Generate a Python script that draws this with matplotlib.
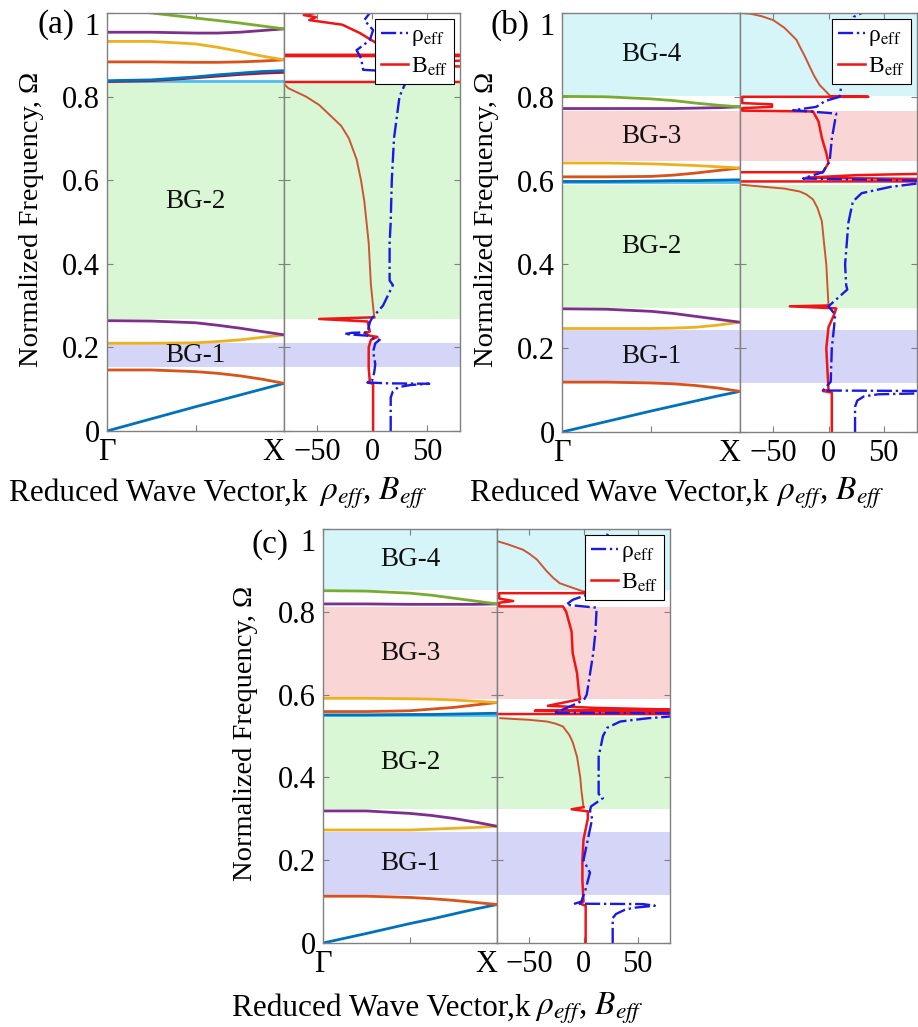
import numpy as np
import matplotlib
matplotlib.use('Agg')
import matplotlib.pyplot as plt

plt.rcParams['font.family'] = ['Liberation Serif', 'DejaVu Serif']
plt.rcParams['mathtext.fontset'] = 'stix'

nan = np.nan

# colores tipo MATLAB
AZUL = '#0072BD'
NARANJA = '#D95319'
AMARILLO = '#EDB120'
MORADO = '#7E2F8E'
VERDE = '#77AC30'
CIAN = '#4DBEEE'
VINO = '#A2142F'

# puntos del vector de onda (Gamma -> X)
k_pts = [0, 0.25, 0.5, 0.625, 0.75, 0.875, 1.0]

# ---------------- panel (a) ----------------
bandas_a = [
    [0.0, 0.029, 0.058, 0.072, 0.086, 0.100, 0.114],
    [0.146, 0.146, 0.142, 0.138, 0.132, 0.124, 0.114],
    [0.21, 0.21, 0.211, 0.214, 0.218, 0.224, 0.23],
    [0.264, 0.263, 0.259, 0.253, 0.246, 0.238, 0.23],
    [0.837, 0.837, 0.837, 0.837, 0.837, 0.837, 0.837],
    [0.836, 0.838, 0.845, 0.849, 0.853, 0.856, 0.858],
    [0.838, 0.84, 0.847, 0.852, 0.856, 0.86, 0.862],
    [0.883, 0.883, 0.882, 0.882, 0.883, 0.885, 0.888],
    [0.932, 0.932, 0.926, 0.918, 0.908, 0.897, 0.888],
    [0.954, 0.954, 0.952, 0.952, 0.954, 0.958, 0.962],
    [1.015, 1.0, 0.988, 0.982, 0.976, 0.969, 0.962],
]
colores_a = [AZUL, NARANJA, AMARILLO, MORADO, CIAN, VINO, AZUL, NARANJA, AMARILLO, MORADO, VERDE]
gaps_a = [(0.152, 0.21), (0.267, 0.832)]
nombres_a = ['BG-1', 'BG-2']

rho_a_val = [17, 17, 19, 24, 35, 52, 15, -4, 0, 2, 3, 1, 3, 7, 0, -4, -25, -18, -4, -2,
             0, 10, 19, 16, 16, 17, 18, 20, 25, 30, 35, 21, -8, -10, -14, -2, 1, -7, -2]
rho_a_frq = [0, .08, .095, .105, .11, .113, .114, .116, .12, .14, .16, .19, .21, .218, .222,
             .228, .232, .235, .236, .26, .27, .3, .349, .36, .45, .5, .6, .7, .8, .83,
             .85, .86, .864, .892, .911, .935, .959, .983, 1.0]
beff_a_val = [1, 1, -4, -2, -3, -3, -1, 5, -2, -7, -2, -4, -48, 2, nan, -80, 80, nan, 80, 8,
              80, nan, -80, 80, nan, -80, 80, nan, 60, 19, 4, -11, -27, -57, -51, -62, -52]
beff_a_frq = [0, .113, .116, .12, .15, .2, .218, .225, .228, .234, .238, .262, .268, .272, nan,
              .835, .835, nan, .872, .879, .886, nan, .9, .9, nan, .897, .897, nan, .903, .912,
              .928, .952, .972, .983, .99, .995, 1.0]
bgap_a_val = [2, -1, -2, -3, -5, -7, -10, -14, -21, -28, -36, -44, -48, -60, -68, -76, -80]
bgap_a_frq = [.272, .35, .4, .45, .5, .55, .6, .65, .7, .73, .75, .77, .78, .8, .81, .82, .83]

# ---------------- panel (b) ----------------
bandas_b = [
    [0.0, 0.025, 0.05, 0.062, 0.074, 0.086, 0.097],
    [0.119, 0.119, 0.117, 0.115, 0.111, 0.105, 0.097],
    [0.247, 0.247, 0.247, 0.248, 0.25, 0.255, 0.262],
    [0.294, 0.293, 0.288, 0.283, 0.276, 0.269, 0.262],
    [0.597, 0.597, 0.597, 0.597, 0.597, 0.597, 0.597],
    [0.598, 0.598, 0.599, 0.6, 0.6, 0.601, 0.602],
    [0.609, 0.609, 0.61, 0.613, 0.618, 0.624, 0.63],
    [0.642, 0.642, 0.64, 0.638, 0.636, 0.633, 0.63],
    [0.772, 0.772, 0.772, 0.772, 0.773, 0.774, 0.776],
    [0.801, 0.8, 0.795, 0.791, 0.785, 0.78, 0.776],
]
colores_b = [AZUL, NARANJA, AMARILLO, MORADO, CIAN, AZUL, NARANJA, AMARILLO, MORADO, VERDE]
gaps_b = [(0.117, 0.244), (0.296, 0.59), (0.646, 0.765), (0.801, 1.0)]
nombres_b = ['BG-1', 'BG-2', 'BG-3', 'BG-4']

rho_b_val = [24, 24, 26, 32, 45, 80, nan, 80, -5, -3, 2, 3, 5, 6, 0, 17, 16, 15, 18, 22,
             30, 56, 80, nan, 80, -23, -15, -5, -2, 1, 3, 7, -32, -11, -3, 10, 13, 19, 23, 30]
rho_b_frq = [0, .06, .075, .085, .09, .092, nan, .098, .099, .105, .12, .2, .25, .28, .3, .34,
             .35, .4, .5, .55, .57, .585, .593, nan, .6, .605, .612, .62, .635, .645, .7, .76,
             .768, .776, .79, .8, .85, .912, .991, 1.0]
beff_b_val = [3, 3, -5, 0, -1, -2, 0, 5, 7, -35, 0, nan, -80, 80, nan, 80, -20, 25, 80, nan,
              -78, -5, 0, -2, -6, -9, -14, -78, -78, -51, -51, -78, -78, 36, 2]
beff_b_frq = [0, .094, .098, .1, .15, .2, .25, .28, .295, .3, .302, nan, .598, .598, nan, .604,
              .607, .613, .616, nan, .62, .62, .642, .666, .702, .741, .765, .767, .773, .776,
              .782, .785, .8, .8, .801]
bgap_b_val = [0, -1, -2, -4, -6, -10, -14, -20, -26, -40, -62, -78, nan,
              2, -8, -13, -17, -22, -26, -29, -35, -40, -50, -60, -70, -78]
bgap_b_frq = [.302, .35, .4, .45, .503, .535, .555, .567, .574, .581, .586, .59, nan,
              .801, .828, .85, .872, .9, .92, .936, .952, .965, .983, .992, .998, 1.0]

# ---------------- panel (c) ----------------
bandas_c = [
    [0.0, 0.023, 0.047, 0.058, 0.07, 0.082, 0.093],
    [0.113, 0.113, 0.11, 0.107, 0.103, 0.098, 0.093],
    [0.273, 0.273, 0.273, 0.275, 0.277, 0.279, 0.282],
    [0.319, 0.319, 0.313, 0.308, 0.301, 0.292, 0.282],
    [0.551, 0.551, 0.551, 0.551, 0.551, 0.551, 0.551],
    [0.551, 0.551, 0.552, 0.552, 0.553, 0.554, 0.555],
    [0.559, 0.559, 0.561, 0.565, 0.569, 0.575, 0.581],
    [0.591, 0.591, 0.59, 0.589, 0.587, 0.584, 0.581],
    [0.819, 0.819, 0.818, 0.818, 0.818, 0.818, 0.819],
    [0.851, 0.85, 0.845, 0.84, 0.833, 0.826, 0.819],
]
colores_c = [AZUL, NARANJA, AMARILLO, MORADO, CIAN, AZUL, NARANJA, AMARILLO, MORADO, VERDE]
gaps_c = [(0.117, 0.269), (0.323, 0.547), (0.589, 0.811), (0.852, 1.0)]
nombres_c = ['BG-1', 'BG-2', 'BG-3', 'BG-4']

rho_c_val = [27, 27, 30, 38, 46, 66, 55, -8, -2, 2, 6, 0, 4, 8, 6, 7, 18, 14, 14, 18,
             22, 34, 60, 80, nan, 80, -28, -18, -5, 1, 3, 6, 9, 11, 12, 12, -16, -10, 2, 12,
             15, 17, 24]
rho_c_frq = [0, .06, .07, .08, .085, .09, .094, .095, .1, .13, .17, .2, .25, .3, .32, .33,
             .35, .36, .45, .5, .52, .535, .543, .547, nan, .555, .556, .565, .58, .59, .6,
             .65, .7, .75, .8, .81, .817, .829, .84, .853, .9, .95, 1.0]
beff_c_val = [2, 2, -3, 0, -1, -1, 0, 4, 4, -11, 0, nan, -80, 80, nan, 80, -45, 80, 10, -33,
              -3, -4, -6, -10, -11, -16, -19, -78, -78, -65, -78, -78, 14, 1]
beff_c_frq = [0, .09, .095, .1, .15, .2, .25, .3, .318, .323, .328, nan, .553, .553, nan, .558,
              .561, .564, .568, .573, .589, .6, .652, .7, .752, .8, .813, .813, .822, .826,
              .832, .845, .845, .848]
bgap_c_val = [0, -2, -3, -6, -10, -13, -19, -26, -34, -50, -77, nan,
              1, -10, -22, -28, -34, -43, -50, -56, -70, -79]
bgap_c_frq = [.328, .37, .4, .45, .485, .502, .523, .53, .535, .539, .543, nan,
              .848, .858, .869, .882, .898, .926, .94, .95, .963, .97]

color_gap = {'BG-1': '#D5D5F8', 'BG-2': '#D9F7D4', 'BG-3': '#F9D5D5', 'BG-4': '#D5F5F9'}

W, H = 918, 1027
fig = plt.figure(figsize=(W / 100, H / 100), dpi=100)


def ejes(x0, x1, ytop, ybot):
    return fig.add_axes([x0 / W, 1 - ybot / H, (x1 - x0) / W, (ybot - ytop) / H])


def estilo(ax):
    for s in ax.spines.values():
        s.set_color('#808080')
        s.set_linewidth(1.0)
    ax.tick_params(direction='in', length=4, width=0.8, color='#808080',
                   top=True, right=True, labelsize=22, pad=5)


def panel(pos, bandas, colores, gaps, nombres, rho_v, rho_f, bv, bf, gv, gf, letra, pos_txt):
    x0, xm, x1, ytop, ybot = pos
    axb = ejes(x0, xm, ytop, ybot)
    axe = ejes(xm, x1, ytop, ybot)

    for (lo, hi), nom in zip(gaps, nombres):
        axb.axhspan(lo, hi, color=color_gap[nom], lw=0, zorder=0)
        axe.axhspan(lo, hi, color=color_gap[nom], lw=0, zorder=0)
        axb.text(0.5, (lo + hi) / 2, nom, ha='center', va='center', fontsize=19.5, color='#111111')

    for vals, c in zip(bandas, colores):
        axb.plot(k_pts, vals, color=c, lw=2.0, solid_capstyle='butt')

    axb.set_xlim(0, 1)
    axb.set_ylim(0, 1)
    axb.set_xticks([0, 0.5, 1])
    axb.set_xticklabels(['Γ', '', 'X'])
    axb.set_yticks([0, 0.2, 0.4, 0.6, 0.8, 1.0])
    axb.set_yticklabels(['0', '0.2', '0.4', '0.6', '0.8', '1'])
    estilo(axb)
    axb.get_yticklabels()[-1].set_verticalalignment('top')
    axb.get_xticklabels()[-1].set_horizontalalignment('right')

    axe.plot(gv, gf, color='#CC5533', lw=1.4)
    axe.plot(bv, bf, color='#F01414', lw=1.8, label=r'B$_{\rm eff}$')
    axe.plot(rho_v, rho_f, color='#1A1AE6', lw=1.7, ls='-.', label=r'ρ$_{\rm eff}$')
    axe.set_xlim(-80, 80)
    axe.set_ylim(0, 1)
    axe.set_xticks([-50, 0, 50])
    axe.set_xticklabels(['\u221250', '0', '50'])
    axe.set_yticks([0, 0.2, 0.4, 0.6, 0.8, 1.0])
    axe.set_yticklabels([])
    estilo(axe)
    h, l = axe.get_legend_handles_labels()
    leg = axe.legend(h[::-1], l[::-1], loc='upper right', fontsize=17, frameon=True,
                     fancybox=False, edgecolor='black', framealpha=1, borderpad=0.25,
                     handlelength=1.15, handletextpad=0.1, labelspacing=0.3,
                     borderaxespad=0.25)
    leg.get_frame().set_linewidth(0.8)

    # textos de la figura
    lx, ly, yl_x, xl1, xl2, xly = pos_txt
    fig.text(lx / W, 1 - ly / H, letra, ha='center', va='center', fontsize=24)
    fig.text(yl_x / W, 1 - ((ytop + ybot) / 2 - 3) / H, 'Normalized Frequency, Ω', rotation=90,
             ha='center', va='center', fontsize=20.5)
    fig.text(xl1 / W, 1 - xly / H, 'Reduced Wave Vector,k', ha='center', va='center', fontsize=22.5)
    fig.text(xl2 / W, 1 - xly / H, r'$\rho_{eff}$, $B_{eff}$', ha='center', va='center',
             fontsize=24)


panel((107, 284, 460, 13, 431), bandas_a, colores_a, gaps_a, nombres_a,
      rho_a_val, rho_a_frq, beff_a_val, beff_a_frq, bgap_a_val, bgap_a_frq,
      '(a)', (56, 25, 32, 158, 373, 493))
panel((562, 740, 917, 13, 432), bandas_b, colores_b, gaps_b, nombres_b,
      rho_b_val, rho_b_frq, beff_b_val, beff_b_frq, bgap_b_val, bgap_b_frq,
      '(b)', (510, 25, 487, 619, 830, 493))
panel((323, 497, 670, 529, 943), bandas_c, colores_c, gaps_c, nombres_c,
      rho_c_val, rho_c_frq, beff_c_val, beff_c_frq, bgap_c_val, bgap_c_frq,
      '(c)', (270, 545, 246, 381, 589, 1008))

fig.savefig('out.png', dpi=100)
